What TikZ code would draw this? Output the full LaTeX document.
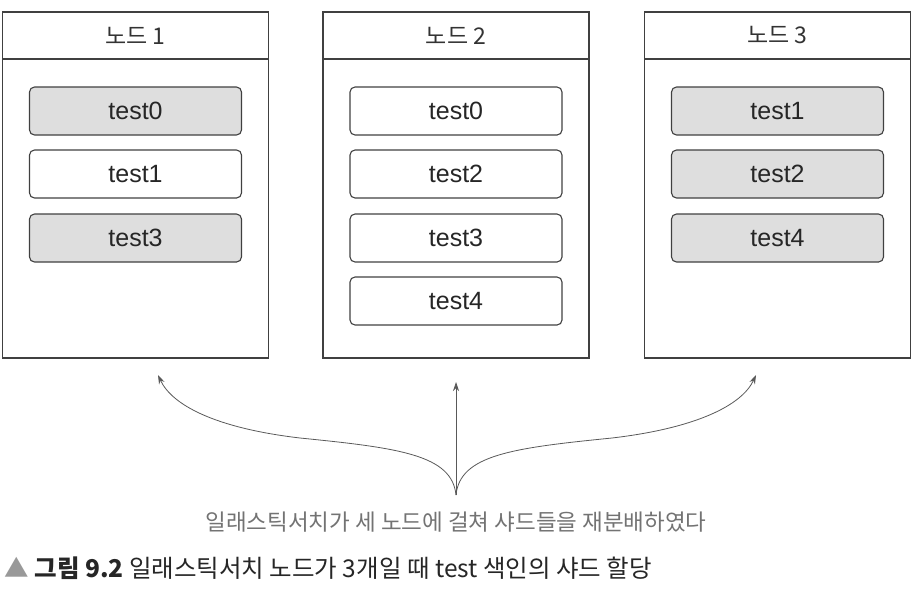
\documentclass[tikz,border=0pt]{standalone}
\usepackage{fontspec}
\setmainfont{Liberation Sans}
\newfontfamily\kor{Noto Sans CJK KR}
\usetikzlibrary{arrows.meta}

\begin{document}
\begin{tikzpicture}[
    x=1pt,
    y=-1pt,
    line width=1.1pt,
    header/.style={
        draw=black!75,
        minimum width=266pt,
        minimum height=47pt,
        inner sep=0pt,
        font=\kor\fontsize{23}{23}\selectfont,
        text=black!80
    },
    body/.style={
        draw=black!75,
        minimum width=266pt,
        minimum height=299pt,
        inner sep=0pt
    },
    shard/.style={
        draw=black!75,
        rounded corners=5pt,
        minimum width=212pt,
        minimum height=48pt,
        inner sep=0pt,
        font=\fontsize{25}{25}\selectfont,
        text=black!85
    },
    moved/.style={
        shard,
        fill=black!13
    },
    spread/.style={
        draw=black!65,
        line width=0.8pt,
        -{Stealth[length=9pt,width=6pt]}
    }
]

\useasboundingbox (0,0) rectangle (920,590);


\node[header] (head1) at (135.5,35.5) {노드 1};
\node[body]   (body1) at (135.5,208.5) {};
\node[header] (head2) at (456,35.5) {노드 2};
\node[body]   (body2) at (456,208.5) {};
\node[header] (head3) at (777.5,35.5) {노드 3};
\node[body]   (body3) at (777.5,208.5) {};


\node[moved] (n1s0) at (135.5,111) {test0};
\node[shard] (n1s1) at (135.5,174) {test1};
\node[moved] (n1s3) at (135.5,238) {test3};


\node[shard] (n2s0) at (456,111) {test0};
\node[shard] (n2s2) at (456,174) {test2};
\node[shard] (n2s3) at (456,238) {test3};
\node[shard] (n2s4) at (456,301) {test4};


\node[moved] (n3s1) at (777.5,111) {test1};
\node[moved] (n3s2) at (777.5,174) {test2};
\node[moved] (n3s4) at (777.5,238) {test4};


\coordinate (root) at (456,495);
\coordinate (tipl) at (158,375);
\coordinate (tipc) at (456,382);
\coordinate (tipr) at (756,375);

\draw[spread] (root) .. controls (452,455) and (400,448) .. (300,438)
    .. controls (215,428) and (172,405) .. (tipl);
\draw[spread] (root) -- (tipc);
\draw[spread] (root) .. controls (460,455) and (512,448) .. (612,438)
    .. controls (697,428) and (742,405) .. (tipr);


\node[font=\kor\fontsize{22.5}{22.5}\selectfont, text=black!55] (note)
    at (456,522) {일래스틱서치가 세 노드에 걸쳐 샤드들을 재분배하였다};

\node[anchor=west, inner sep=0pt, font=\kor\fontsize{24.5}{24.5}\selectfont,
    text=black!85] (caption) at (4,568)
    {{\color{black!40}▲} \textbf{그림 9.2} 일래스틱서치 노드가 3개일 때 test 색인의 샤드 할당};

\end{tikzpicture}
\end{document}
